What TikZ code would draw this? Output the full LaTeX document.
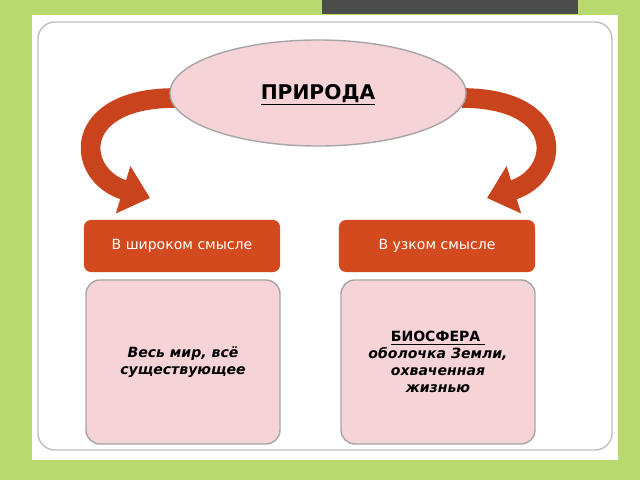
\documentclass[tikz,border=0pt]{standalone}
\usepackage{fontspec}
\setmainfont{DejaVu Sans}
\usetikzlibrary{arrows.meta,shapes.geometric}
\definecolor{bg}{HTML}{B8D96E}
\definecolor{pinkf}{HTML}{F5D3D6}
\definecolor{orng}{HTML}{D24A1E}
\definecolor{arr}{HTML}{C9431D}
\tikzset{
  pinkbox/.style={draw=gray!70, line width=1pt, fill=pinkf, rounded corners=10pt, minimum width=4.85cm, minimum height=4.1cm, align=center, font=\bfseries\itshape},
  orangebox/.style={fill=orng, rounded corners=5pt, minimum width=4.9cm, minimum height=1.3cm, text=white, font=\normalsize},
  curvearr/.style={draw=arr, line width=14pt, -{Triangle[width=34pt,length=20pt]}}
}
\begin{document}
\begin{tikzpicture}[x=0.025cm,y=-0.025cm]
\useasboundingbox (0,0) rectangle (640,480);
\fill[bg] (0,0) rectangle (640,480);
\fill[gray!60!black] (322,0) rectangle (578,14);
\fill[white] (32,15) rectangle (618,460);
\draw[gray!50, line width=1pt, rounded corners=12pt] (38,22) rectangle (612,450);
\draw[curvearr] (175,98) .. controls (70,98) and (75,175) .. (150,198);
\draw[curvearr] (462,98) .. controls (567,98) and (562,175) .. (487,198);
\node[ellipse, draw=gray!70, line width=1pt, fill=pinkf, minimum width=7.4cm, minimum height=2.65cm] (nat) at (318,93) {};
\node[font=\bfseries\Large] (natt) at (318,95) {\underline{ПРИРОДА}};
\node[orangebox] (wide) at (182,246) {В широком смысле};
\node[orangebox] (narrow) at (437,246) {В узком смысле};
\node[pinkbox] (wb) at (183,362) {Весь мир, всё\\существующее};
\node[pinkbox] (nb) at (438,362) {\underline{\upshape БИОСФЕРА }\\оболочка Земли,\\охваченная\\жизнью};
\end{tikzpicture}
\end{document}
